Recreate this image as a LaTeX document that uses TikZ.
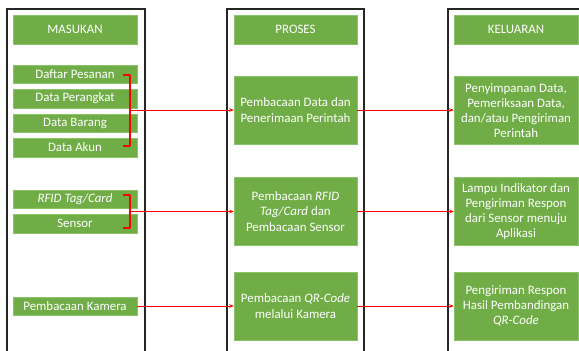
\documentclass[tikz,border=0pt]{standalone}
\usepackage{fontspec}
\setmainfont{Carlito}
\usetikzlibrary{arrows.meta}
\definecolor{gr}{HTML}{70AD47}
\definecolor{grb}{HTML}{8CC46A}
\definecolor{rd}{HTML}{FF0000}
\tikzset{
  gbox/.style={fill=gr, draw=grb, line width=0.4pt, text=white, inner sep=0pt,
    minimum width=124pt, align=center, font=\fontsize{12.9}{15.2}\selectfont},
  frame/.style={draw=black!85, line width=1.3pt},
  conn/.style={draw=rd, line width=0.8pt, -{Stealth[length=4.5pt,width=3.5pt]}},
  brk/.style={draw=rd, line width=1.6pt, line join=round}
}
\begin{document}
\begin{tikzpicture}[x=1pt,y=-1pt]
\useasboundingbox (0,0) rectangle (579,351);
\fill[white] (0,0) rectangle (579,351);
\begin{scope}
\clip (0,0) rectangle (579,351);
\draw[frame] (7,9) rectangle (145,370);
\draw[frame] (227,9) rectangle (364,370);
\draw[frame] (448,9) rectangle (620,370);
\end{scope}
% headers
\node[gbox, minimum height=29pt] (hin)  at (75,29.5)  {MASUKAN};
\node[gbox, minimum height=29pt, minimum width=123pt] (hpr)  at (295.5,29.5) {PROSES};
\node[gbox, minimum height=29pt] (hout) at (516,29.5) {KELUARAN};
% inputs
\node[gbox, minimum height=18.5pt] (dp) at (75,74)    {Daftar Pesanan};
\node[gbox, minimum height=18.5pt] (dr) at (75,98.5)  {Data Perangkat};
\node[gbox, minimum height=18.5pt] (db) at (75,123)   {Data Barang};
\node[gbox, minimum height=18.5pt] (da) at (75,147.5) {Data Akun};
\node[gbox, minimum height=18.5pt] (rf) at (75,199)   {\itshape RFID Tag/Card};
\node[gbox, minimum height=18.5pt] (se) at (75,223.5) {Sensor};
\node[gbox, minimum height=18.5pt] (ka) at (75,306)   {Pembacaan Kamera};
% process
\node[gbox, minimum height=68pt, minimum width=123pt] (p1) at (295.5,110) {Pembacaan Data dan\\Penerimaan Perintah};
\node[gbox, minimum height=68pt, minimum width=123pt] (p2) at (295.5,211.5) {Pembacaan \textit{RFID}\\\textit{Tag/Card} dan\\Pembacaan Sensor};
\node[gbox, minimum height=68pt, minimum width=123pt] (p3) at (295.5,306) {Pembacaan \textit{QR-Code}\\melalui Kamera};
% outputs
\node[gbox, minimum height=68pt] (o1) at (516,110.5) {Penyimpanan Data,\\Pemeriksaan Data,\\dan/atau Pengiriman\\Perintah};
\node[gbox, minimum height=68pt] (o2) at (516,211.5) {Lampu Indikator dan\\Pengiriman Respon\\dari Sensor menuju\\Aplikasi};
\node[gbox, minimum height=68pt] (o3) at (516,306) {Pengiriman Respon\\Hasil Pembandingan\\\textit{QR-Code}};
% brackets
\coordinate (b1t) at (123,75);
\coordinate (b1b) at (123,146);
\coordinate (b1m) at (130,110);
\coordinate (b2t) at (123,195);
\coordinate (b2b) at (123,228);
\coordinate (b2m) at (130,211.5);
\draw[brk] (b1t) -| (b1m) |- (b1b);
\draw[brk] (b2t) -| (b2m) |- (b2b);
% connectors
\draw[conn] (b1m) -- (b1m -| p1.west);
\draw[conn] (p1.east |- b1m) -- (o1.west |- b1m);
\draw[conn] (b2m) -- (b2m -| p2.west);
\draw[conn] (p2.east) -- (o2.west);
\draw[conn] (ka.east) -- (p3.west);
\draw[conn] (p3.east) -- (o3.west);
\end{tikzpicture}
\end{document}
